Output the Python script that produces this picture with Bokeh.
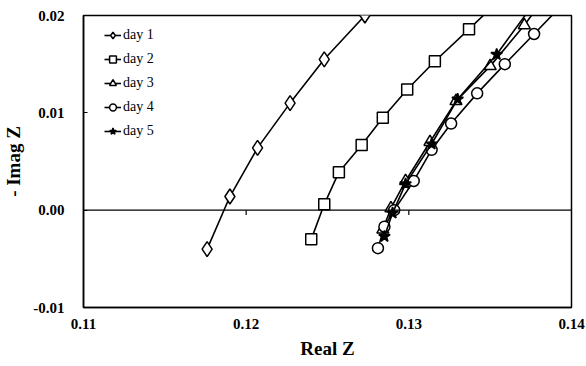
from bokeh.plotting import figure
from bokeh.models import Range1d, FixedTicker, NumeralTickFormatter, Legend, LegendItem, Span
from bokeh.embed import file_html
from bokeh.resources import INLINE

# ---- data ----
day1_x = [0.1176, 0.1190, 0.1207, 0.1227, 0.1248, 0.1273]
day1_y = [-0.0040, 0.0014, 0.0064, 0.0110, 0.0155, 0.0200]

day2_x = [0.1240, 0.1248, 0.1257, 0.1271, 0.1284, 0.1299, 0.1316, 0.1337, 0.1357]
day2_y = [-0.0030, 0.0006, 0.0039, 0.0067, 0.0095, 0.0124, 0.0153, 0.0186, 0.0218]

day3_x = [0.1284, 0.1289, 0.1298, 0.1313, 0.1329, 0.1350, 0.1371, 0.1385]
day3_y = [-0.0020, 0.0002, 0.0030, 0.0070, 0.0112, 0.0148, 0.0190, 0.0222]

day4_x = [0.1281, 0.1285, 0.1291, 0.1303, 0.1314, 0.1326, 0.1342, 0.1359, 0.1377, 0.1396]
day4_y = [-0.0039, -0.0017, 0.0000, 0.0030, 0.0062, 0.0089, 0.0120, 0.0150, 0.0181, 0.0214]

day5_x = [0.1285, 0.1290, 0.1298, 0.1314, 0.1330, 0.1354, 0.1378]
day5_y = [-0.0027, -0.0003, 0.0027, 0.0068, 0.0114, 0.0160, 0.0215]

labels = ["day 1", "day 2", "day 3", "day 4", "day 5"]
markers = ["diamond", "square", "triangle", "circle", "star"]
x_ticks = [0.11, 0.12, 0.13, 0.14]
y_ticks = [-0.01, 0.00, 0.01, 0.02]

series = [(day1_x, day1_y), (day2_x, day2_y), (day3_x, day3_y), (day4_x, day4_y), (day5_x, day5_y)]
sizes = [15, 11, 12, 11, 12]

SERIF = "Liberation Serif"

p = figure(width=586, height=366, output_backend="svg", toolbar_location=None,
           x_range=Range1d(x_ticks[0], x_ticks[-1]), y_range=Range1d(y_ticks[0], y_ticks[-1]),
           min_border_left=79, min_border_right=15, min_border_top=15, min_border_bottom=59)
p.background_fill_color = "white"
p.border_fill_color = "white"
p.outline_line_color = "black"
p.outline_line_width = 1.5
p.xgrid.visible = False
p.ygrid.visible = False

# zero line
p.add_layout(Span(location=0, dimension="width", line_color="black", line_width=1.3))
# tick marks on the zero line
inner = x_ticks[1:-1]
p.segment(x0=inner, y0=[0] * len(inner), x1=inner, y1=[-0.0005] * len(inner),
          line_color="black", line_width=1.2)

items = []
for (xs, ys), lab, mk, sz in zip(series, labels, markers, sizes):
    ln = p.line(xs, ys, line_color="black", line_width=1.6)
    fill = "black" if mk == "star" else "white"
    sc = p.scatter(xs, ys, marker=mk, size=sz, fill_color=fill, line_color="black", line_width=1.5)
    items.append(LegendItem(label=lab, renderers=[ln, sc]))

legend = Legend(items=items, location=(21, 166), margin=0, padding=0,
                border_line_color=None, background_fill_alpha=0,
                label_text_font=SERIF, label_text_font_size="14px", label_text_color="black",
                glyph_width=17, glyph_height=20, label_height=20, spacing=4, label_standoff=2)
p.add_layout(legend)

for ax in (p.xaxis[0], p.yaxis[0]):
    ax.major_label_text_font = SERIF
    ax.major_label_text_font_style = "bold"
    ax.major_label_text_font_size = "15px"
    ax.major_label_text_color = "black"
    ax.axis_label_text_font = SERIF
    ax.axis_label_text_font_style = "bold"
    ax.axis_label_text_font_size = "19px"
    ax.axis_label_text_color = "black"
    ax.minor_tick_line_color = None
    ax.axis_line_color = "black"
    ax.axis_line_width = 1.5
    ax.formatter = NumeralTickFormatter(format="0.00")

p.xaxis[0].ticker = FixedTicker(ticks=x_ticks)
p.yaxis[0].ticker = FixedTicker(ticks=y_ticks)
p.xaxis[0].axis_label = "Real Z"
p.yaxis[0].axis_label = "- Imag Z"
p.xaxis[0].major_tick_in = 0
p.xaxis[0].major_tick_out = 0
p.xaxis[0].major_label_standoff = 11
p.xaxis[0].axis_label_standoff = 6
p.yaxis[0].major_tick_in = 4
p.yaxis[0].major_tick_out = 0
p.yaxis[0].major_label_standoff = 19
p.yaxis[0].axis_label_standoff = 6

open("out.html", "w").write(file_html(p, INLINE))
